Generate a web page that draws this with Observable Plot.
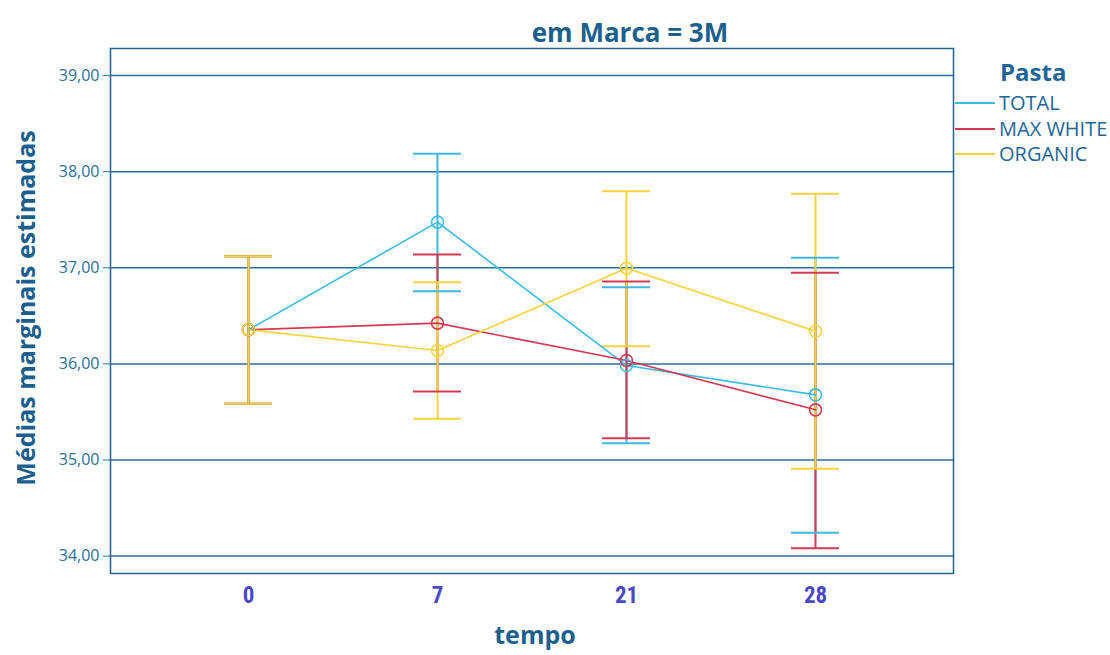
<!DOCTYPE html>
<html>
<head>
<meta charset="utf-8">
<script src="https://cdn.jsdelivr.net/npm/d3@7"></script>
<script src="https://cdn.jsdelivr.net/npm/@observablehq/plot@0.6"></script>
<style>
  html, body { margin: 0; padding: 0; background: #ffffff; }
  #wrap { position: relative; width: 1110px; height: 655px; overflow: hidden; font-family: "Open Sans", "Noto Sans", sans-serif; }
  #chart { position: absolute; left: 0; top: 0; }
  .ttl { position: absolute; white-space: nowrap; font-weight: bold; color: #1c5f8c; line-height: 1; }
  #title { left: 630px; top: 19px; font-size: 26px; transform: translateX(-50%); }
  #xtitle { left: 535px; top: 622px; font-size: 25px; transform: translateX(-50%); }
  #ytitle { left: 25px; top: 308px; font-size: 25px; transform: translate(-50%, -50%) rotate(-90deg); }
  #legend { position: absolute; left: 955px; top: 55px; color: #1f6595; }
  #legend .head { position: absolute; left: 45px; top: 0; font-size: 24px; font-weight: bold; line-height: 34px; white-space: nowrap; }
  #legend .item { position: absolute; left: 0; height: 26px; white-space: nowrap; }
  #legend .item svg { position: absolute; left: 0; top: 0; }
  #legend .item span { position: absolute; left: 44px; top: 0; font-size: 20px; line-height: 26px; }
  g[aria-label="x-axis tick label"] text { font-family: "Liberation Sans Narrow", "Roboto Condensed", "Liberation Sans", sans-serif; }
</style>
</head>
<body>
<div id="wrap">
  <div id="chart"></div>
  <div id="title" class="ttl">em Marca = 3M</div>
  <div id="ytitle" class="ttl">Médias marginais estimadas</div>
  <div id="xtitle" class="ttl">tempo</div>
  <div id="legend"></div>
</div>
<script>
// ---- data ----
const tempo = ["0", "7", "21", "28"];
const series = ["TOTAL", "MAX WHITE", "ORGANIC"];
const seriesColors = ["#3fb9e4", "#d23a52", "#f4d33c"];

const totalMean  = [36.355, 37.475, 35.983, 35.678];
const totalLow   = [35.585, 36.757, 35.175, 34.242];
const totalHigh  = [37.121, 38.186, 36.798, 37.104];

const maxWhiteMean = [36.355, 36.424, 36.035, 35.522];
const maxWhiteLow  = [35.585, 35.713, 35.227, 34.082];
const maxWhiteHigh = [37.121, 37.138, 36.857, 36.948];

const organicMean = [36.355, 36.139, 36.996, 36.340];
const organicLow  = [35.585, 35.429, 36.184, 34.908];
const organicHigh = [37.121, 36.850, 37.797, 37.770];

const yTicks = [34, 35, 36, 37, 38, 39];

// ---- build table ----
const means = [totalMean, maxWhiteMean, organicMean];
const lows = [totalLow, maxWhiteLow, organicLow];
const highs = [totalHigh, maxWhiteHigh, organicHigh];
const rows = [];
series.forEach((s, k) => {
  tempo.forEach((t, i) => {
    rows.push({pasta: s, tempo: t, mean: means[k][i], low: lows[k][i], high: highs[k][i]});
  });
});

const gridColor = "#2f6f97";
const frameColor = "#21618b";

const chart = Plot.plot({
  width: 1110,
  height: 655,
  marginLeft: 110,
  marginRight: 157,
  marginTop: 48,
  marginBottom: 82,
  style: {fontFamily: "'Open Sans', 'Noto Sans', sans-serif", background: "transparent", overflow: "visible"},
  x: {type: "band", domain: tempo, paddingInner: 0.747, paddingOuter: 0.595, align: 0.5},
  y: {domain: [33.819, 39.282]},
  color: {domain: series, range: seriesColors},
  marks: [
    Plot.gridY(yTicks, {stroke: gridColor, strokeOpacity: 1, strokeWidth: 1.5}),
    Plot.frame({stroke: frameColor, strokeWidth: 1.5}),
    Plot.axisY(yTicks, {
      tickSize: 7, tickPadding: 4, fontSize: 16, color: "#2d6f9b", label: null,
      tickFormat: d => d.toFixed(2).replace(".", ",")
    }),
    Plot.axisX({tickSize: 0, tickPadding: 13, fontSize: 23, fontWeight: "bold", color: "#4a48c4", label: null}),
    Plot.ruleX(rows, {x: "tempo", y1: "low", y2: "high", stroke: "pasta", strokeWidth: 2}),
    Plot.tickY(rows, {x: "tempo", y: "low", stroke: "pasta", strokeWidth: 2}),
    Plot.tickY(rows, {x: "tempo", y: "high", stroke: "pasta", strokeWidth: 2}),
    Plot.line(rows, {x: "tempo", y: "mean", z: "pasta", stroke: "pasta", strokeWidth: 1.6}),
    Plot.dot(rows, {x: "tempo", y: "mean", stroke: "pasta", r: 6, strokeWidth: 1.6, fill: "none"})
  ]
});
document.getElementById("chart").appendChild(chart);

// ---- legend ----
const legend = document.getElementById("legend");
const head = document.createElement("div");
head.className = "head";
head.textContent = "Pasta";
legend.appendChild(head);
series.forEach((s, k) => {
  const item = document.createElement("div");
  item.className = "item";
  item.style.top = (35 + k * 25.5) + "px";
  item.innerHTML = `<svg width="42" height="26"><line x1="0" x2="40" y1="13" y2="13" stroke="${seriesColors[k]}" stroke-width="2"/></svg><span>${s}</span>`;
  legend.appendChild(item);
});
</script>
</body>
</html>
